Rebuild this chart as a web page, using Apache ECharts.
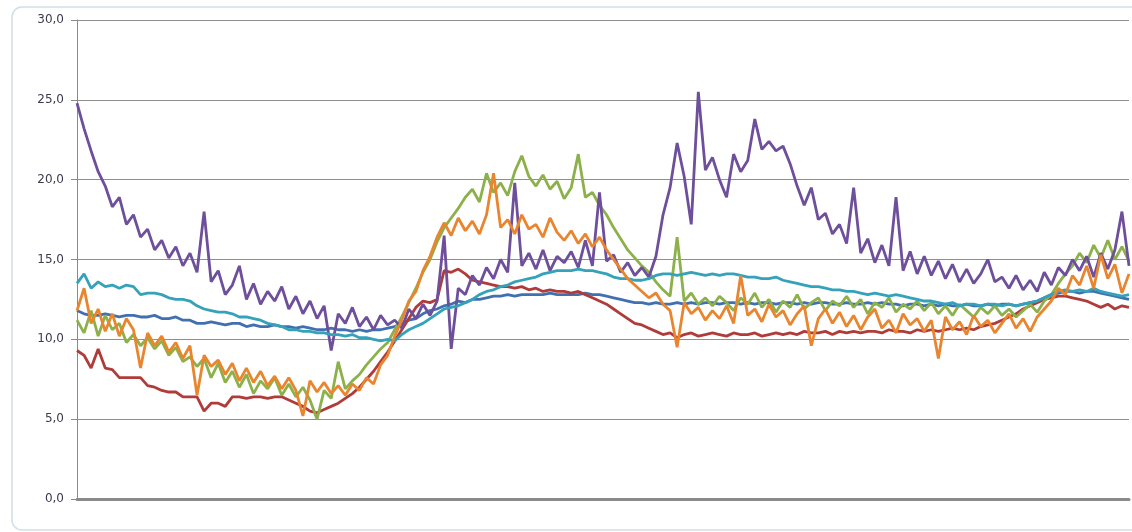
<!DOCTYPE html>
<html>
<head>
<meta charset="utf-8">
<script src="https://cdn.jsdelivr.net/npm/echarts@6/dist/echarts.min.js"></script>
<style>
  html, body { margin: 0; padding: 0; background: #fff; }
  #chart { width: 1132px; height: 532px; }
</style>
</head>
<body>
<div id="chart"></div>
<script>
// values, left to right (150 samples each)
var blueVals = [
  11.8, 11.6, 11.5, 11.5, 11.6, 11.5, 11.4, 11.5, 11.5, 11.4,
  11.4, 11.5, 11.3, 11.3, 11.4, 11.2, 11.2, 11.0, 11.0, 11.1,
  11.0, 10.9, 11.0, 11.0, 10.8, 10.9, 10.8, 10.8, 10.9, 10.8,
  10.8, 10.7, 10.8, 10.7, 10.6, 10.6, 10.7, 10.6, 10.6, 10.5,
  10.6, 10.5, 10.6, 10.6, 10.7, 10.8, 11.0, 11.2, 11.3, 11.6,
  11.8, 11.9, 12.1, 12.2, 12.4, 12.3, 12.5, 12.5, 12.6, 12.7,
  12.7, 12.8, 12.7, 12.8, 12.8, 12.8, 12.8, 12.9, 12.8, 12.8,
  12.8, 12.8, 12.9, 12.8, 12.8, 12.7, 12.6, 12.5, 12.4, 12.3,
  12.3, 12.2, 12.3, 12.2, 12.2, 12.3, 12.2, 12.3, 12.2, 12.3,
  12.3, 12.2, 12.3, 12.3, 12.2, 12.3, 12.2, 12.3, 12.3, 12.2,
  12.3, 12.3, 12.2, 12.3, 12.2, 12.3, 12.3, 12.2, 12.2, 12.3,
  12.2, 12.2, 12.3, 12.2, 12.3, 12.2, 12.2, 12.1, 12.2, 12.2,
  12.1, 12.2, 12.1, 12.2, 12.1, 12.1, 12.2, 12.1, 12.1, 12.2,
  12.1, 12.2, 12.2, 12.1, 12.2, 12.3, 12.4, 12.6, 12.8, 12.9,
  13.0, 13.0, 12.9, 13.0, 13.0, 12.9, 12.8, 12.7, 12.6, 12.5
];
var redVals = [
  9.3, 9.0, 8.2, 9.4, 8.2, 8.1, 7.6, 7.6, 7.6, 7.6,
  7.1, 7.0, 6.8, 6.7, 6.7, 6.4, 6.4, 6.4, 5.5, 6.0,
  6.0, 5.8, 6.4, 6.4, 6.3, 6.4, 6.4, 6.3, 6.4, 6.4,
  6.2, 6.0, 5.8, 5.5, 5.4, 5.6, 5.8, 6.0, 6.3, 6.6,
  7.0, 7.5, 8.0, 8.6, 9.2, 9.9, 10.6, 11.3, 12.0, 12.4,
  12.3, 12.5, 14.3, 14.2, 14.4, 14.1, 13.7, 13.6, 13.5, 13.4,
  13.3, 13.3, 13.2, 13.3, 13.1, 13.2, 13.0, 13.1, 13.0, 13.0,
  12.9, 13.0, 12.8, 12.6, 12.4, 12.2, 11.9, 11.6, 11.3, 11.0,
  10.9, 10.7, 10.5, 10.3, 10.4, 10.1, 10.3, 10.4, 10.2, 10.3,
  10.4, 10.3, 10.2, 10.4, 10.3, 10.3, 10.4, 10.2, 10.3, 10.4,
  10.3, 10.4, 10.3, 10.5, 10.4, 10.4, 10.5, 10.3, 10.5, 10.4,
  10.5, 10.4, 10.5, 10.5, 10.4, 10.6, 10.5, 10.5, 10.4, 10.6,
  10.5, 10.6, 10.5, 10.6, 10.7, 10.6, 10.7, 10.6, 10.8, 10.9,
  11.0, 11.2, 11.4, 11.6, 11.9, 12.1, 12.3, 12.5, 12.6, 12.7,
  12.7, 12.6, 12.5, 12.4, 12.2, 12.0, 12.2, 11.9, 12.1, 12.0
];
var greenVals = [
  11.2, 10.4, 11.8, 10.2, 11.5, 10.6, 11.0, 9.8, 10.3, 9.6,
  10.1, 9.4, 9.9, 9.0, 9.5, 8.6, 8.9, 8.3, 8.8, 7.6,
  8.5, 7.3, 8.0, 7.0, 7.8, 6.6, 7.4, 6.9, 7.6, 6.5,
  7.2, 6.4, 7.0, 6.2, 5.0, 6.8, 6.3, 8.6, 6.9, 7.4,
  7.8, 8.4, 8.9, 9.4, 9.8, 10.6, 11.4, 12.3, 13.2, 14.2,
  15.0, 16.1, 17.0, 17.6, 18.2, 18.9, 19.4, 18.6, 20.4, 19.2,
  19.8, 19.0, 20.5, 21.5, 20.2, 19.6, 20.3, 19.4, 19.9, 18.8,
  19.5, 21.6, 18.9, 19.2, 18.4, 17.8, 17.0, 16.3, 15.6, 15.1,
  14.6, 14.2, 13.6, 13.1, 12.7, 16.4, 12.4, 12.9, 12.2, 12.6,
  12.1, 12.7, 12.3, 11.8, 12.6, 12.2, 12.9, 12.0, 12.5, 11.7,
  12.4, 12.0, 12.8, 11.9, 12.3, 12.6, 11.8, 12.4, 12.1, 12.7,
  12.0, 12.5, 11.6, 12.3, 12.0, 12.6, 11.7, 12.2, 11.9, 12.4,
  11.8, 12.3, 11.6, 12.1, 11.5, 12.2, 11.8, 11.4, 12.0, 11.6,
  12.1, 11.5, 11.9, 11.4, 11.8, 12.2, 11.7, 12.4, 12.8, 13.5,
  14.1, 14.6, 15.4, 14.8, 15.9, 15.1, 16.2, 15.0, 15.8, 14.9
];
var purpleVals = [
  24.8, 23.2, 21.8, 20.5, 19.6, 18.3, 18.9, 17.2, 17.8, 16.4,
  16.9, 15.6, 16.2, 15.1, 15.8, 14.6, 15.4, 14.2, 18.0, 13.6,
  14.3, 12.8, 13.4, 14.6, 12.5, 13.5, 12.2, 13.0, 12.4, 13.3,
  11.9, 12.7, 11.6, 12.4, 11.3, 12.1, 9.3, 11.6, 11.0, 12.0,
  10.8, 11.4, 10.6, 11.5, 10.9, 11.2, 10.7, 11.9, 11.3, 12.2,
  11.5, 12.4, 16.5, 9.4, 13.2, 12.8, 14.0, 13.4, 14.5, 13.8,
  15.0, 14.2, 19.8, 14.6, 15.4, 14.4, 15.6, 14.3, 15.2, 14.8,
  15.5, 14.5, 16.2, 14.6, 19.2, 14.9, 15.3, 14.2, 14.8, 14.0,
  14.5, 13.9, 15.2, 17.8, 19.5, 22.3, 20.2, 17.2, 25.5, 20.6,
  21.4, 20.0, 18.9, 21.6, 20.5, 21.2, 23.8, 21.9, 22.4, 21.8,
  22.1, 21.0, 19.6, 18.4, 19.5, 17.5, 17.9, 16.6, 17.2, 16.0,
  19.5, 15.4, 16.3, 14.8, 15.9, 14.6, 18.9, 14.3, 15.5, 14.1,
  15.2, 14.0, 14.9, 13.8, 14.7, 13.6, 14.4, 13.5, 14.1, 15.0,
  13.6, 13.9, 13.2, 14.0, 13.1, 13.7, 13.0, 14.2, 13.4, 14.5,
  14.0, 15.0, 14.3, 15.2, 13.9, 15.4, 14.4, 15.6, 18.0, 14.6
];
var tealVals = [
  13.5, 14.1, 13.2, 13.6, 13.3, 13.4, 13.2, 13.4, 13.3, 12.8,
  12.9, 12.9, 12.8, 12.6, 12.5, 12.5, 12.4, 12.1, 11.9, 11.8,
  11.7, 11.7, 11.6, 11.4, 11.4, 11.3, 11.2, 11.0, 10.9, 10.8,
  10.6, 10.6, 10.5, 10.5, 10.4, 10.4, 10.3, 10.3, 10.2, 10.3,
  10.1, 10.1, 10.0, 9.9, 10.0, 9.9, 10.3, 10.6, 10.8, 11.0,
  11.3, 11.6, 11.9, 12.0, 12.1, 12.3, 12.5, 12.8, 13.0, 13.1,
  13.3, 13.4, 13.6, 13.7, 13.8, 13.9, 14.1, 14.2, 14.3, 14.3,
  14.3, 14.4, 14.3, 14.3, 14.2, 14.1, 13.9, 13.8, 13.8, 13.7,
  13.7, 13.8, 14.0, 14.1, 14.1, 14.0, 14.1, 14.2, 14.1, 14.0,
  14.1, 14.0, 14.1, 14.1, 14.0, 13.9, 13.9, 13.8, 13.8, 13.9,
  13.7, 13.6, 13.5, 13.4, 13.3, 13.3, 13.2, 13.1, 13.1, 13.0,
  13.0, 12.9, 12.8, 12.9, 12.8, 12.7, 12.8, 12.7, 12.6, 12.5,
  12.4, 12.4, 12.3, 12.2, 12.3, 12.1, 12.2, 12.2, 12.1, 12.2,
  12.2, 12.1, 12.2, 12.1, 12.2, 12.3, 12.4, 12.6, 12.8, 13.0,
  13.1, 13.0, 13.1, 13.0, 13.2, 13.0, 12.9, 12.8, 12.7, 12.8
];
var orangeVals = [
  11.8, 13.2, 11.0, 11.9, 10.5, 11.6, 10.2, 11.3, 10.6, 8.2,
  10.4, 9.6, 10.2, 9.2, 9.8, 8.8, 9.6, 6.5, 9.0, 8.3,
  8.7, 7.8, 8.5, 7.4, 8.2, 7.3, 8.0, 7.1, 7.7, 6.9,
  7.6, 6.8, 5.2, 7.4, 6.7, 7.3, 6.6, 7.1, 6.5, 7.2,
  6.8, 7.6, 7.2, 8.4, 9.0, 10.2, 11.2, 12.4, 13.0, 14.3,
  15.2, 16.4, 17.3, 16.5, 17.6, 16.8, 17.4, 16.6, 17.8, 20.4,
  17.0, 17.5, 16.6, 17.8, 16.9, 17.2, 16.4, 17.6, 16.7, 16.2,
  16.8, 16.0, 16.6, 15.8, 16.4, 15.6, 15.0, 14.4, 13.8, 13.4,
  13.0, 12.6, 12.9, 12.2, 11.8, 9.5, 12.3, 11.6, 12.0, 11.2,
  11.8, 11.3, 12.1, 11.0, 14.0, 11.5, 11.9, 11.1, 12.2, 11.4,
  11.8, 10.9, 11.6, 12.1, 9.6, 11.3, 11.9, 11.0, 11.7, 10.8,
  11.5, 10.6, 11.4, 11.9, 10.7, 11.2, 10.4, 11.6, 10.9, 11.3,
  10.5, 11.2, 8.8, 11.4, 10.6, 11.1, 10.3, 11.5, 10.8, 11.2,
  10.4, 11.0, 11.6, 10.7, 11.3, 10.5, 11.4, 11.9, 12.4, 13.2,
  12.8, 14.0, 13.4, 14.6, 13.2, 15.3, 13.8, 14.7, 12.9, 14.1
];
var yTicks = { min: 0, max: 30, step: 5 };

var categories = blueVals.map(function (v, i) { return i; });

var chart = echarts.init(document.getElementById('chart'));

function makeLine(name, data, color) {
  return {
    name: name,
    type: 'line',
    data: data,
    showSymbol: false,
    symbol: 'none',
    lineStyle: { width: 2.8, color: color },
    itemStyle: { color: color },
    animation: false
  };
}

var option = {
  backgroundColor: '#ffffff',
  animation: false,
  graphic: [
    {
      type: 'rect',
      shape: { x: 12, y: 7, width: 1130, height: 523, r: 10 },
      style: { fill: 'none', stroke: '#cfdfe6', lineWidth: 1.5 },
      silent: true
    }
  ],
  grid: { left: 77, right: 3, top: 20, bottom: 33, containLabel: false },
  xAxis: {
    type: 'category',
    data: categories,
    boundaryGap: false,
    axisLine: { show: true, lineStyle: { color: '#8a8a8a', width: 3 } },
    axisTick: { show: false },
    axisLabel: { show: false },
    splitLine: { show: false }
  },
  yAxis: {
    type: 'value',
    min: yTicks.min,
    max: yTicks.max,
    interval: yTicks.step,
    axisLine: { show: true, lineStyle: { color: '#8a8a8a', width: 1 } },
    axisTick: { show: true, length: 6, lineStyle: { color: '#8a8a8a' } },
    axisLabel: {
      margin: 13,
      color: '#3b3b4f',
      fontFamily: 'DejaVu Sans',
      fontSize: 12,
      formatter: function (v) { return v.toFixed(1).replace('.', ','); }
    },
    splitLine: { show: true, lineStyle: { color: '#8f8f8f', width: 1 } }
  },
  series: [
    makeLine('blue', blueVals, '#4170b0'),
    makeLine('red', redVals, '#b03c3a'),
    makeLine('green', greenVals, '#8db14a'),
    makeLine('purple', purpleVals, '#6e4f9b'),
    makeLine('teal', tealVals, '#35a2ba'),
    makeLine('orange', orangeVals, '#e9852e')
  ]
};

chart.setOption(option);
</script>
</body>
</html>
